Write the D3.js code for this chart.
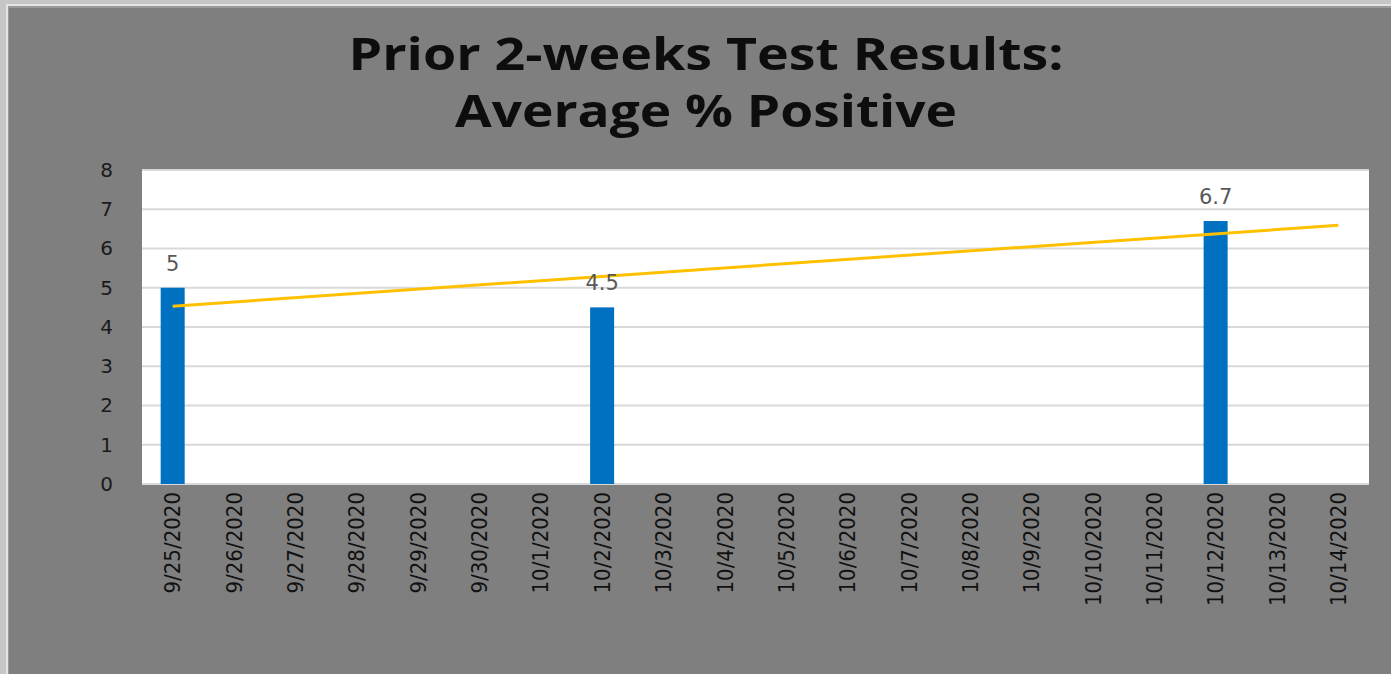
<!DOCTYPE html>
<html>
<head>
<meta charset="utf-8">
<script src="https://cdn.jsdelivr.net/npm/d3@7"></script>
<style>
  html, body { margin: 0; padding: 0; background: #c8c8c8; }
  svg { display: block; }
</style>
</head>
<body>
<svg id="chart"></svg>
<script>
// chart data
const dates = ["9/25/2020", "9/26/2020", "9/27/2020", "9/28/2020", "9/29/2020", "9/30/2020",
  "10/1/2020", "10/2/2020", "10/3/2020", "10/4/2020", "10/5/2020", "10/6/2020", "10/7/2020",
  "10/8/2020", "10/9/2020", "10/10/2020", "10/11/2020", "10/12/2020", "10/13/2020", "10/14/2020"];
const positive = [5, null, null, null, null, null, null, 4.5, null, null, null, null, null, null,
  null, null, null, 6.7, null, null];
const trendDates = ["9/25/2020", "10/14/2020"];
const trendValues = [4.53, 6.59];
const yTicks = [0, 1, 2, 3, 4, 5, 6, 7, 8];
const titleLines = ["Prior 2-weeks Test Results:", "Average % Positive"];

const W = 1391, H = 674;
const margin = {top: 170, right: 22, bottom: 190, left: 142};

const svg = d3.select("#chart").attr("width", W).attr("height", H);

// frame
svg.append("rect").attr("x", 0).attr("y", 0).attr("width", W).attr("height", H).attr("fill", "#c6c6c6");
svg.append("rect").attr("x", 6).attr("y", 4).attr("width", W - 6).attr("height", H - 4).attr("fill", "#e4e4e4");
svg.append("rect").attr("x", 8).attr("y", 6).attr("width", W - 8).attr("height", H - 6).attr("fill", "#9a9a9a");
svg.append("rect").attr("x", 9).attr("y", 8).attr("width", W - 9).attr("height", H - 8).attr("fill", "#7f7f7f");

// title (text stretched wide like the original)
const titleWidths = [715, 502];
svg.append("g").selectAll("text")
  .data(titleLines)
  .join("text")
  .attr("x", 706)
  .attr("y", (d, i) => 70 + i * 57)
  .attr("text-anchor", "middle")
  .attr("textLength", (d, i) => titleWidths[i])
  .attr("lengthAdjust", "spacingAndGlyphs")
  .style("font-family", "'Open Sans', sans-serif")
  .style("font-weight", "bold")
  .style("font-size", "44px")
  .style("fill", "#0d0d0d")
  .text(d => d);

const width = W - margin.left - margin.right;
const height = H - margin.top - margin.bottom;

const chart = svg.append("g")
  .attr("transform", "translate(" + margin.left + "," + margin.top + ")");

const x = d3.scaleBand().domain(dates).range([0, width]).paddingInner(0.6).paddingOuter(0.3);
const y = d3.scaleLinear().domain([0, 8]).range([height, 0]);

chart.append("rect").attr("width", width).attr("height", height).attr("fill", "#ffffff");

// gridlines
chart.append("g").selectAll("line")
  .data(yTicks.slice(1))
  .join("line")
  .attr("x1", 0).attr("x2", width)
  .attr("y1", d => y(d)).attr("y2", d => y(d))
  .attr("stroke", "#d9d9d9").attr("stroke-width", 2);

chart.append("line")
  .attr("x1", 0).attr("x2", width)
  .attr("y1", height).attr("y2", height)
  .attr("stroke", "#d9d9d9").attr("stroke-width", 2);

// bars
const barW = 24;
const bars = dates.map((d, i) => ({date: d, v: positive[i]})).filter(d => d.v != null);

chart.append("g").selectAll("rect")
  .data(bars)
  .join("rect")
  .attr("x", d => x(d.date) + x.bandwidth() / 2 - barW / 2)
  .attr("y", d => y(d.v))
  .attr("width", barW)
  .attr("height", d => height - y(d.v))
  .attr("fill", "#0070c0");

// trendline
const line = d3.line()
  .x(d => x(d[0]) + x.bandwidth() / 2)
  .y(d => y(d[1]));

chart.append("path")
  .datum(trendDates.map((d, i) => [d, trendValues[i]]))
  .attr("d", line)
  .attr("fill", "none")
  .attr("stroke", "#ffc000")
  .attr("stroke-width", 3);

// data labels
chart.append("g").selectAll("text")
  .data(bars)
  .join("text")
  .attr("x", d => x(d.date) + x.bandwidth() / 2)
  .attr("y", d => y(d.v) - 17)
  .attr("text-anchor", "middle")
  .style("font-family", "'DejaVu Sans', sans-serif")
  .style("font-size", "21px")
  .style("fill", "#595959")
  .text(d => d.v);

// y axis
const yAxis = chart.append("g")
  .call(d3.axisLeft(y).tickValues(yTicks).tickSize(0).tickPadding(29));
yAxis.select(".domain").remove();
yAxis.selectAll("text")
  .style("font-family", "'DejaVu Sans', sans-serif")
  .style("font-size", "20px")
  .style("fill", "#1a1a1a");

// x axis
const xAxis = chart.append("g")
  .attr("transform", "translate(0," + height + ")")
  .call(d3.axisBottom(x).tickSize(0));
xAxis.select(".domain").remove();
xAxis.selectAll("text")
  .attr("transform", "rotate(-90)")
  .attr("x", -8)
  .attr("y", 0)
  .attr("dy", "0.35em")
  .attr("text-anchor", "end")
  .style("font-family", "'DejaVu Sans Condensed', 'DejaVu Sans', sans-serif")
  .style("font-stretch", "condensed")
  .style("font-size", "22px")
  .style("fill", "#111111");
</script>
</body>
</html>
